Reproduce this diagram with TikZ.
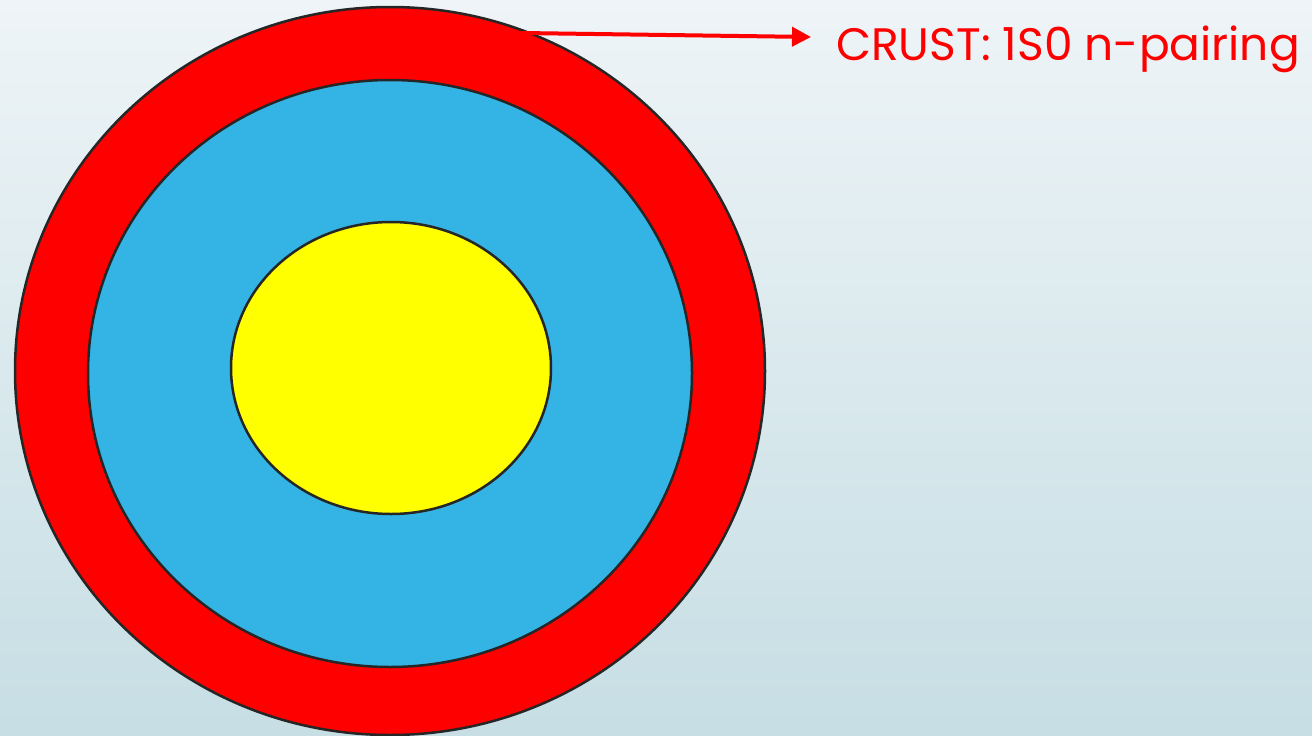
\documentclass[tikz,border=0pt]{standalone}
\usepackage{fontspec}
\newfontfamily\labelfont{Poppins}
\usetikzlibrary{arrows.meta}
\definecolor{bgtop}{HTML}{EEF4F7}
\definecolor{bgbot}{HTML}{C6DEE4}
\definecolor{crust}{HTML}{FF0000}
\definecolor{mantle}{HTML}{33B4E5}
\definecolor{core}{HTML}{FFFF00}
\definecolor{edge}{HTML}{262626}
\tikzset{
  layer/.style={draw=edge, line width=2.5pt},
  pointer/.style={draw=crust, line width=4pt, -{Triangle[length=19pt,width=19pt]}},
  label/.style={text=crust, font=\labelfont\fontsize{45.5}{50}\selectfont, inner sep=0pt, anchor=base west}
}
\begin{document}
\begin{tikzpicture}[x=1pt,y=-1pt]
\shade[top color=bgtop, bottom color=bgbot] (0,0) rectangle (1312,736);
\useasboundingbox (0,0) rectangle (1312,736);
\fill[layer, fill=crust] (390,371) ellipse [x radius=375, y radius=364];
\fill[layer, fill=mantle] (390,373.5) ellipse [x radius=302, y radius=293.5];
\fill[layer, fill=core] (391,368) ellipse [x radius=160, y radius=146];
\coordinate (start) at (522,33);
\coordinate (tip) at (811,37);
\node[label] (lbl) at (836,60) {CRUST: 1S0 n-pairing};
\draw[pointer] (start) -- (tip);
\end{tikzpicture}
\end{document}
